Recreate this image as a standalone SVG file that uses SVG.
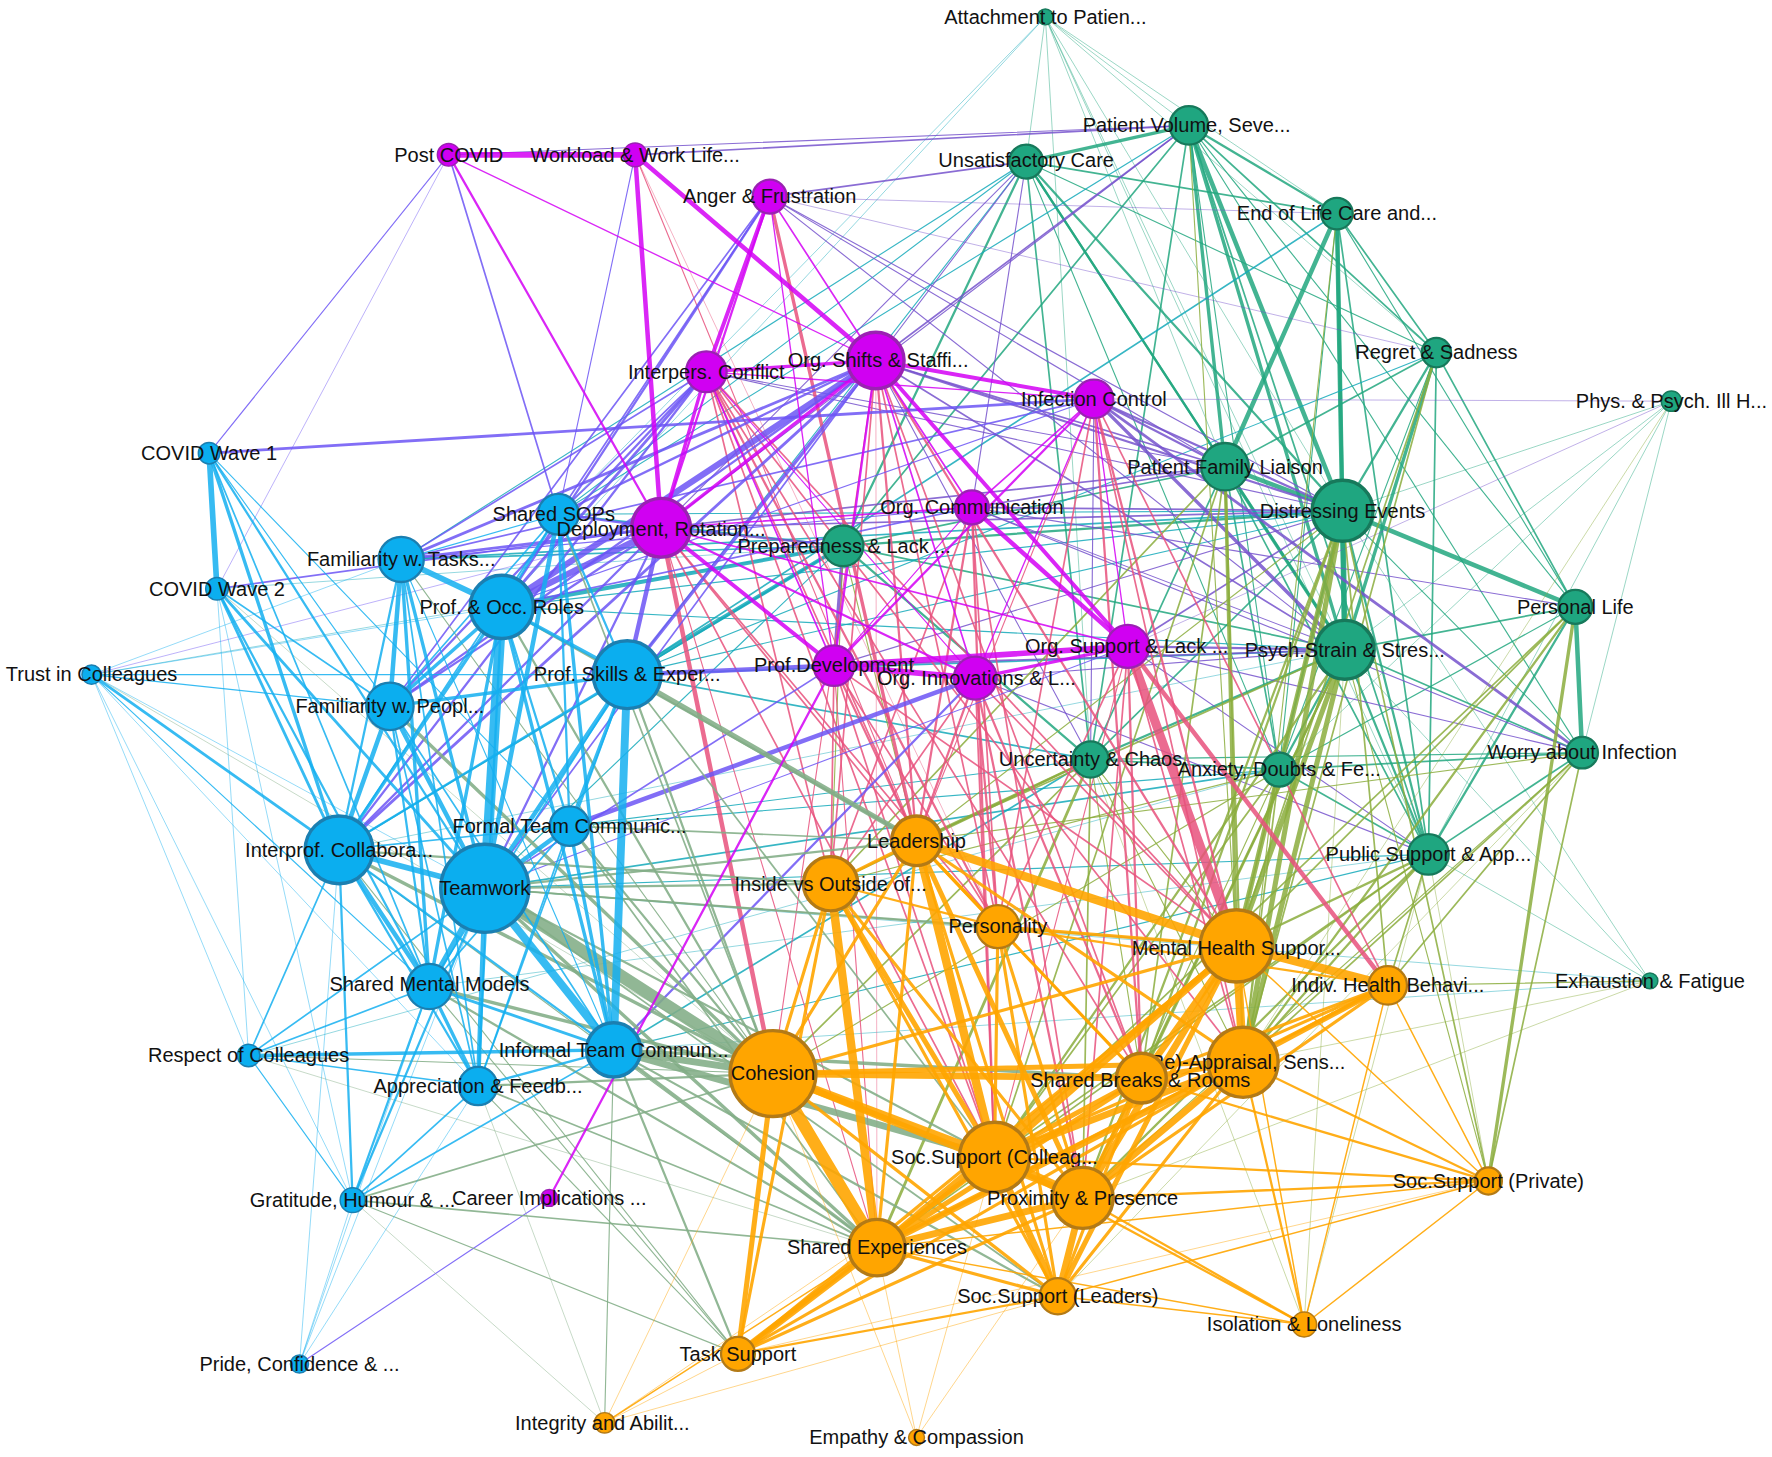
<svg xmlns="http://www.w3.org/2000/svg" width="1772" height="1457" viewBox="0 0 1772 1457">
<style>
.e line{fill:none;stroke-linecap:round}
.bb{stroke:#14aff0;stroke-opacity:.85}
.mm{stroke:#d400f4;stroke-opacity:.85}
.gg{stroke:#22a77f;stroke-opacity:.85}
.oo{stroke:#ffa500;stroke-opacity:.9}
.bm{stroke:#6c55f4;stroke-opacity:.85}
.mo{stroke:#e8517c;stroke-opacity:.85}
.go{stroke:#8bad3d;stroke-opacity:.85}
.bo{stroke:#82ad86;stroke-opacity:.88}
.bg{stroke:#14a9ba;stroke-opacity:.85}
.mg{stroke:#7652cc;stroke-opacity:.85}
.t{stroke-opacity:.5}
.nb circle{fill:#0baeef;stroke:#1b7fb1}
.nm circle{fill:#d000f2;stroke:#9a22b2}
.ng circle{fill:#1fa680;stroke:#17795b}
.no circle{fill:#ffa500;stroke:#b37a16}
.s1{stroke-width:1.3}.s2{stroke-width:2}.s3{stroke-width:3}
.node text{font-family:"Liberation Sans",Arial,Helvetica,sans-serif;font-size:17.7px;fill:#111;text-anchor:middle}
</style>
<rect width="1772" height="1457" fill="#fff"/>
<g transform="scale(1.130102)">
<g id="connectors" class="e">
<g class="gg">
<g stroke-width="5"><line x1="1188" y1="452" x2="1190" y2="575"/></g>
<g stroke-width="4"><line x1="1052" y1="111" x2="1188" y2="452"/><line x1="1183" y1="189" x2="1084" y2="413"/><line x1="1183" y1="189" x2="1190" y2="575"/><line x1="1084" y1="413" x2="1188" y2="452"/><line x1="1188" y1="452" x2="1394" y2="537"/><line x1="1394" y1="537" x2="1400" y2="666"/></g>
<g stroke-width="3"><line x1="1052" y1="111" x2="908" y2="143"/><line x1="1052" y1="111" x2="1084" y2="413"/><line x1="1052" y1="111" x2="1190" y2="575"/><line x1="1183" y1="189" x2="1188" y2="452"/><line x1="1271" y1="312" x2="1190" y2="575"/><line x1="1084" y1="413" x2="1190" y2="575"/></g>
<g stroke-width="2"><line x1="1052" y1="111" x2="1183" y2="189"/><line x1="908" y1="143" x2="1188" y2="452"/><line x1="908" y1="143" x2="1084" y2="413"/><line x1="908" y1="143" x2="1190" y2="575"/><line x1="908" y1="143" x2="746" y2="483"/><line x1="1271" y1="312" x2="1188" y2="452"/><line x1="1188" y1="452" x2="1264" y2="756"/><line x1="1188" y1="452" x2="1132" y2="681"/><line x1="1188" y1="452" x2="746" y2="483"/><line x1="1190" y1="575" x2="1264" y2="756"/><line x1="1190" y1="575" x2="1132" y2="681"/><line x1="1190" y1="575" x2="965" y2="672"/><line x1="1394" y1="537" x2="1264" y2="756"/><line x1="965" y1="672" x2="746" y2="483"/></g>
<g stroke-width="1.5"><line x1="1052" y1="111" x2="1271" y2="312"/><line x1="1052" y1="111" x2="746" y2="483"/><line x1="1052" y1="111" x2="965" y2="672"/><line x1="1052" y1="111" x2="1264" y2="756"/><line x1="908" y1="143" x2="965" y2="672"/><line x1="908" y1="143" x2="1183" y2="189"/><line x1="1183" y1="189" x2="1271" y2="312"/><line x1="1183" y1="189" x2="1264" y2="756"/><line x1="1271" y1="312" x2="1084" y2="413"/><line x1="1271" y1="312" x2="1264" y2="756"/><line x1="1271" y1="312" x2="1394" y2="537"/><line x1="1084" y1="413" x2="965" y2="672"/><line x1="1084" y1="413" x2="746" y2="483"/><line x1="1084" y1="413" x2="1132" y2="681"/><line x1="1084" y1="413" x2="1264" y2="756"/><line x1="1188" y1="452" x2="965" y2="672"/><line x1="1190" y1="575" x2="1400" y2="666"/><line x1="1190" y1="575" x2="1394" y2="537"/><line x1="1190" y1="575" x2="746" y2="483"/><line x1="1400" y1="666" x2="1132" y2="681"/><line x1="1400" y1="666" x2="1264" y2="756"/><line x1="965" y1="672" x2="1132" y2="681"/><line x1="1132" y1="681" x2="1264" y2="756"/></g>
<g stroke-width="1"><line x1="1052" y1="111" x2="1400" y2="666"/><line x1="1052" y1="111" x2="1394" y2="537"/><line x1="1052" y1="111" x2="1132" y2="681"/><line x1="908" y1="143" x2="1132" y2="681"/><line x1="908" y1="143" x2="1271" y2="312"/><line x1="1183" y1="189" x2="1132" y2="681"/><line x1="1183" y1="189" x2="1394" y2="537"/><line x1="1271" y1="312" x2="1132" y2="681"/><line x1="1188" y1="452" x2="1400" y2="666"/><line x1="1394" y1="537" x2="1132" y2="681"/><line x1="1400" y1="666" x2="965" y2="672"/></g>
<g stroke-width="0.8" class="t"><line x1="925" y1="15" x2="908" y2="143"/><line x1="925" y1="15" x2="1052" y2="111"/><line x1="925" y1="15" x2="1183" y2="189"/><line x1="925" y1="15" x2="1084" y2="413"/><line x1="925" y1="15" x2="1188" y2="452"/><line x1="925" y1="15" x2="1190" y2="575"/><line x1="925" y1="15" x2="1271" y2="312"/><line x1="925" y1="15" x2="965" y2="672"/><line x1="925" y1="15" x2="1264" y2="756"/><line x1="1479" y1="355" x2="1190" y2="575"/><line x1="1479" y1="355" x2="1264" y2="756"/><line x1="1479" y1="355" x2="1132" y2="681"/><line x1="1479" y1="355" x2="1400" y2="666"/><line x1="1479" y1="355" x2="1188" y2="452"/><line x1="1460" y1="868" x2="1264" y2="756"/><line x1="1460" y1="868" x2="1188" y2="452"/><line x1="1460" y1="868" x2="1190" y2="575"/></g>
</g>
<g class="bg">
<g stroke-width="3.5"><line x1="746" y1="483" x2="555" y2="597"/><line x1="746" y1="483" x2="444" y2="537"/></g>
<g stroke-width="1.5"><line x1="746" y1="483" x2="355" y2="495"/><line x1="746" y1="483" x2="300" y2="752"/><line x1="746" y1="483" x2="494" y2="455"/><line x1="355" y1="495" x2="1188" y2="452"/><line x1="429" y1="786" x2="1132" y2="681"/><line x1="543" y1="929" x2="965" y2="672"/><line x1="555" y1="597" x2="965" y2="672"/><line x1="555" y1="597" x2="1190" y2="575"/><line x1="1183" y1="189" x2="555" y2="597"/></g>
<g stroke-width="1"><line x1="746" y1="483" x2="429" y2="786"/><line x1="444" y1="537" x2="1188" y2="452"/><line x1="444" y1="537" x2="1190" y2="575"/><line x1="429" y1="786" x2="1264" y2="756"/><line x1="504" y1="731" x2="965" y2="672"/><line x1="543" y1="929" x2="1264" y2="756"/><line x1="494" y1="455" x2="1188" y2="452"/><line x1="494" y1="455" x2="1052" y2="111"/><line x1="555" y1="597" x2="1188" y2="452"/><line x1="908" y1="143" x2="494" y2="455"/><line x1="908" y1="143" x2="555" y2="597"/><line x1="908" y1="143" x2="355" y2="495"/><line x1="1271" y1="312" x2="555" y2="597"/><line x1="504" y1="731" x2="1132" y2="681"/></g>
<g stroke-width="0.8" class="t"><line x1="81" y1="597" x2="746" y2="483"/><line x1="192" y1="521" x2="746" y2="483"/><line x1="925" y1="15" x2="494" y2="455"/><line x1="925" y1="15" x2="444" y2="537"/><line x1="1460" y1="868" x2="543" y2="929"/><line x1="1460" y1="868" x2="429" y2="786"/><line x1="1264" y1="756" x2="380" y2="873"/><line x1="220" y1="934" x2="1132" y2="681"/><line x1="300" y1="752" x2="1190" y2="575"/></g>
</g>
<g class="mg">
<g stroke-width="3"><line x1="746" y1="483" x2="738" y2="589"/><line x1="968" y1="353" x2="1190" y2="575"/></g>
<g stroke-width="2.5"><line x1="968" y1="353" x2="1400" y2="666"/></g>
<g stroke-width="2"><line x1="775" y1="319" x2="1188" y2="452"/><line x1="968" y1="353" x2="1188" y2="452"/><line x1="968" y1="353" x2="1084" y2="413"/><line x1="998" y1="572" x2="1190" y2="575"/><line x1="585" y1="467" x2="746" y2="483"/></g>
<g stroke-width="1.5"><line x1="775" y1="319" x2="1190" y2="575"/><line x1="775" y1="319" x2="1052" y2="111"/><line x1="775" y1="319" x2="1084" y2="413"/><line x1="681" y1="174" x2="908" y2="143"/><line x1="562" y1="137" x2="1052" y2="111"/><line x1="860" y1="449" x2="1188" y2="452"/><line x1="860" y1="449" x2="1084" y2="413"/><line x1="998" y1="572" x2="1188" y2="452"/><line x1="738" y1="589" x2="1190" y2="575"/><line x1="585" y1="467" x2="1188" y2="452"/><line x1="585" y1="467" x2="1084" y2="413"/></g>
<g stroke-width="1"><line x1="775" y1="319" x2="908" y2="143"/><line x1="775" y1="319" x2="965" y2="672"/><line x1="968" y1="353" x2="965" y2="672"/><line x1="681" y1="174" x2="1188" y2="452"/><line x1="681" y1="174" x2="1190" y2="575"/><line x1="681" y1="174" x2="1084" y2="413"/><line x1="397" y1="137" x2="1052" y2="111"/><line x1="625" y1="329" x2="1084" y2="413"/><line x1="625" y1="329" x2="1188" y2="452"/><line x1="860" y1="449" x2="1190" y2="575"/><line x1="998" y1="572" x2="1264" y2="756"/><line x1="998" y1="572" x2="1400" y2="666"/><line x1="585" y1="467" x2="908" y2="143"/><line x1="585" y1="467" x2="1052" y2="111"/><line x1="738" y1="589" x2="1188" y2="452"/><line x1="863" y1="600" x2="1190" y2="575"/><line x1="863" y1="600" x2="1264" y2="756"/><line x1="860" y1="449" x2="1394" y2="537"/><line x1="860" y1="449" x2="1400" y2="666"/><line x1="908" y1="143" x2="860" y2="449"/></g>
<g stroke-width="0.8" class="t"><line x1="968" y1="353" x2="1479" y2="355"/><line x1="998" y1="572" x2="1479" y2="355"/><line x1="681" y1="174" x2="1271" y2="312"/><line x1="681" y1="174" x2="1183" y2="189"/></g>
</g>
<g class="go">
<g stroke-width="4.5"><line x1="1188" y1="452" x2="1094" y2="837"/><line x1="1188" y1="452" x2="1100" y2="940"/><line x1="1190" y1="575" x2="1094" y2="837"/><line x1="1190" y1="575" x2="1100" y2="940"/></g>
<g stroke-width="3"><line x1="1084" y1="413" x2="1094" y2="837"/><line x1="1394" y1="537" x2="1317" y2="1045"/></g>
<g stroke-width="2.5"><line x1="965" y1="672" x2="776" y2="1104"/></g>
<g stroke-width="2"><line x1="1188" y1="452" x2="1010" y2="954"/><line x1="1188" y1="452" x2="958" y2="1060"/><line x1="1190" y1="575" x2="880" y2="1024"/><line x1="1190" y1="575" x2="958" y2="1060"/><line x1="1190" y1="575" x2="1010" y2="954"/><line x1="1084" y1="413" x2="1100" y2="940"/><line x1="1394" y1="537" x2="1100" y2="940"/><line x1="1264" y1="756" x2="1094" y2="837"/><line x1="1264" y1="756" x2="1100" y2="940"/><line x1="1264" y1="756" x2="958" y2="1060"/><line x1="965" y1="672" x2="735" y2="782"/><line x1="965" y1="672" x2="811" y2="744"/></g>
<g stroke-width="1.5"><line x1="1188" y1="452" x2="1317" y2="1045"/><line x1="1188" y1="452" x2="1228" y2="872"/><line x1="1190" y1="575" x2="811" y2="744"/><line x1="1084" y1="413" x2="880" y2="1024"/><line x1="1084" y1="413" x2="1010" y2="954"/><line x1="1084" y1="413" x2="735" y2="782"/><line x1="1394" y1="537" x2="1094" y2="837"/><line x1="1394" y1="537" x2="880" y2="1024"/><line x1="1400" y1="666" x2="1317" y2="1045"/><line x1="1400" y1="666" x2="1100" y2="940"/><line x1="1400" y1="666" x2="1228" y2="872"/><line x1="1264" y1="756" x2="880" y2="1024"/><line x1="1264" y1="756" x2="1228" y2="872"/><line x1="1264" y1="756" x2="776" y2="1104"/><line x1="965" y1="672" x2="684" y2="950"/><line x1="965" y1="672" x2="958" y2="1060"/><line x1="1132" y1="681" x2="1100" y2="940"/><line x1="1132" y1="681" x2="1094" y2="837"/><line x1="1132" y1="681" x2="880" y2="1024"/><line x1="1271" y1="312" x2="1094" y2="837"/><line x1="1271" y1="312" x2="1100" y2="940"/></g>
<g stroke-width="1"><line x1="1400" y1="666" x2="958" y2="1060"/><line x1="1400" y1="666" x2="811" y2="744"/><line x1="965" y1="672" x2="1100" y2="940"/><line x1="965" y1="672" x2="1010" y2="954"/><line x1="965" y1="672" x2="1094" y2="837"/><line x1="1132" y1="681" x2="958" y2="1060"/><line x1="1132" y1="681" x2="684" y2="950"/><line x1="1132" y1="681" x2="735" y2="782"/><line x1="1183" y1="189" x2="1100" y2="940"/><line x1="746" y1="483" x2="811" y2="744"/><line x1="746" y1="483" x2="735" y2="782"/><line x1="1052" y1="111" x2="1094" y2="837"/><line x1="1460" y1="868" x2="1228" y2="872"/><line x1="1317" y1="1045" x2="1190" y2="575"/><line x1="811" y1="744" x2="1188" y2="452"/></g>
<g stroke-width="0.8" class="t"><line x1="1264" y1="756" x2="1154" y2="1172"/><line x1="1264" y1="756" x2="1317" y2="1045"/><line x1="1460" y1="868" x2="1100" y2="940"/><line x1="1460" y1="868" x2="958" y2="1060"/><line x1="1479" y1="355" x2="1100" y2="940"/><line x1="1154" y1="1172" x2="1190" y2="575"/><line x1="1154" y1="1172" x2="965" y2="672"/><line x1="1400" y1="666" x2="936" y2="1147"/></g>
</g>
<g class="mo">
<g stroke-width="8"><line x1="998" y1="572" x2="1094" y2="837"/></g>
<g stroke-width="4"><line x1="585" y1="467" x2="684" y2="950"/><line x1="998" y1="572" x2="1228" y2="872"/></g>
<g stroke-width="3"><line x1="681" y1="174" x2="811" y2="744"/></g>
<g stroke-width="2"><line x1="775" y1="319" x2="811" y2="744"/><line x1="775" y1="319" x2="1094" y2="837"/><line x1="625" y1="329" x2="883" y2="820"/><line x1="968" y1="353" x2="1094" y2="837"/><line x1="968" y1="353" x2="1010" y2="954"/><line x1="860" y1="449" x2="880" y2="1024"/><line x1="860" y1="449" x2="811" y2="744"/><line x1="738" y1="589" x2="811" y2="744"/><line x1="863" y1="600" x2="811" y2="744"/><line x1="863" y1="600" x2="883" y2="820"/><line x1="863" y1="600" x2="958" y2="1060"/><line x1="863" y1="600" x2="1010" y2="954"/><line x1="998" y1="572" x2="1010" y2="954"/></g>
<g stroke-width="1.5"><line x1="775" y1="319" x2="1010" y2="954"/><line x1="775" y1="319" x2="883" y2="820"/><line x1="775" y1="319" x2="735" y2="782"/><line x1="625" y1="329" x2="1010" y2="954"/><line x1="625" y1="329" x2="1100" y2="940"/><line x1="625" y1="329" x2="811" y2="744"/><line x1="625" y1="329" x2="880" y2="1024"/><line x1="625" y1="329" x2="1094" y2="837"/><line x1="625" y1="329" x2="735" y2="782"/><line x1="968" y1="353" x2="883" y2="820"/><line x1="968" y1="353" x2="1228" y2="872"/><line x1="968" y1="353" x2="1100" y2="940"/><line x1="860" y1="449" x2="883" y2="820"/><line x1="860" y1="449" x2="958" y2="1060"/><line x1="860" y1="449" x2="735" y2="782"/><line x1="738" y1="589" x2="883" y2="820"/><line x1="738" y1="589" x2="880" y2="1024"/><line x1="738" y1="589" x2="735" y2="782"/><line x1="738" y1="589" x2="1094" y2="837"/><line x1="863" y1="600" x2="880" y2="1024"/><line x1="863" y1="600" x2="1094" y2="837"/><line x1="863" y1="600" x2="735" y2="782"/><line x1="998" y1="572" x2="958" y2="1060"/><line x1="998" y1="572" x2="1100" y2="940"/><line x1="998" y1="572" x2="883" y2="820"/><line x1="585" y1="467" x2="880" y2="1024"/><line x1="585" y1="467" x2="883" y2="820"/><line x1="585" y1="467" x2="811" y2="744"/></g>
<g stroke-width="1"><line x1="775" y1="319" x2="684" y2="950"/><line x1="562" y1="137" x2="811" y2="744"/><line x1="968" y1="353" x2="811" y2="744"/><line x1="738" y1="589" x2="776" y2="1104"/><line x1="998" y1="572" x2="880" y2="1024"/><line x1="585" y1="467" x2="776" y2="1104"/></g>
<g stroke-width="0.8" class="t"><line x1="562" y1="137" x2="883" y2="820"/><line x1="775" y1="319" x2="776" y2="1104"/></g>
</g>
<g class="bm">
<g stroke-width="5.5"><line x1="775" y1="319" x2="444" y2="537"/><line x1="585" y1="467" x2="444" y2="537"/></g>
<g stroke-width="4"><line x1="738" y1="589" x2="555" y2="597"/><line x1="863" y1="600" x2="504" y2="731"/><line x1="585" y1="467" x2="555" y2="597"/></g>
<g stroke-width="3"><line x1="775" y1="319" x2="555" y2="597"/></g>
<g stroke-width="2.5"><line x1="775" y1="319" x2="355" y2="495"/><line x1="775" y1="319" x2="300" y2="752"/><line x1="585" y1="467" x2="355" y2="495"/><line x1="625" y1="329" x2="444" y2="537"/><line x1="185" y1="401" x2="968" y2="353"/></g>
<g stroke-width="2"><line x1="775" y1="319" x2="494" y2="455"/><line x1="775" y1="319" x2="345" y2="625"/><line x1="585" y1="467" x2="300" y2="752"/><line x1="585" y1="467" x2="429" y2="786"/><line x1="585" y1="467" x2="494" y2="455"/><line x1="585" y1="467" x2="345" y2="625"/><line x1="625" y1="329" x2="300" y2="752"/><line x1="625" y1="329" x2="345" y2="625"/><line x1="681" y1="174" x2="444" y2="537"/><line x1="863" y1="600" x2="543" y2="929"/></g>
<g stroke-width="1.5"><line x1="775" y1="319" x2="429" y2="786"/><line x1="585" y1="467" x2="192" y2="521"/><line x1="625" y1="329" x2="355" y2="495"/><line x1="625" y1="329" x2="494" y2="455"/><line x1="681" y1="174" x2="494" y2="455"/><line x1="681" y1="174" x2="345" y2="625"/><line x1="397" y1="137" x2="494" y2="455"/><line x1="738" y1="589" x2="429" y2="786"/><line x1="860" y1="449" x2="444" y2="537"/><line x1="968" y1="353" x2="355" y2="495"/></g>
<g stroke-width="1"><line x1="397" y1="137" x2="185" y2="401"/><line x1="562" y1="137" x2="494" y2="455"/><line x1="860" y1="449" x2="355" y2="495"/><line x1="968" y1="353" x2="444" y2="537"/><line x1="998" y1="572" x2="429" y2="786"/><line x1="486" y1="1060" x2="265" y2="1207"/></g>
<g stroke-width="0.8" class="t"><line x1="397" y1="137" x2="192" y2="521"/><line x1="81" y1="597" x2="585" y2="467"/></g>
</g>
<g class="bo">
<g stroke-width="11"><line x1="429" y1="786" x2="684" y2="950"/></g>
<g stroke-width="6"><line x1="543" y1="929" x2="684" y2="950"/><line x1="543" y1="929" x2="880" y2="1024"/></g>
<g stroke-width="4.5"><line x1="555" y1="597" x2="811" y2="744"/></g>
<g stroke-width="3"><line x1="300" y1="752" x2="684" y2="950"/><line x1="380" y1="873" x2="684" y2="950"/><line x1="429" y1="786" x2="776" y2="1104"/><line x1="543" y1="929" x2="776" y2="1104"/><line x1="345" y1="625" x2="684" y2="950"/><line x1="543" y1="929" x2="1010" y2="954"/></g>
<g stroke-width="2"><line x1="300" y1="752" x2="735" y2="782"/><line x1="429" y1="786" x2="735" y2="782"/><line x1="429" y1="786" x2="811" y2="744"/><line x1="423" y1="961" x2="684" y2="950"/><line x1="380" y1="873" x2="776" y2="1104"/><line x1="504" y1="731" x2="684" y2="950"/><line x1="444" y1="537" x2="811" y2="744"/><line x1="444" y1="537" x2="684" y2="950"/><line x1="555" y1="597" x2="684" y2="950"/><line x1="543" y1="929" x2="653" y2="1198"/><line x1="543" y1="929" x2="936" y2="1147"/><line x1="429" y1="786" x2="880" y2="1024"/></g>
<g stroke-width="1.5"><line x1="429" y1="786" x2="883" y2="820"/><line x1="423" y1="961" x2="776" y2="1104"/><line x1="312" y1="1062" x2="684" y2="950"/><line x1="312" y1="1062" x2="776" y2="1104"/><line x1="504" y1="731" x2="811" y2="744"/><line x1="504" y1="731" x2="776" y2="1104"/><line x1="494" y1="455" x2="684" y2="950"/><line x1="555" y1="597" x2="880" y2="1024"/><line x1="429" y1="786" x2="936" y2="1147"/><line x1="429" y1="786" x2="1094" y2="837"/></g>
<g stroke-width="1"><line x1="312" y1="1062" x2="653" y2="1198"/><line x1="380" y1="873" x2="653" y2="1198"/><line x1="423" y1="961" x2="653" y2="1198"/><line x1="300" y1="752" x2="653" y2="1198"/><line x1="220" y1="934" x2="684" y2="950"/><line x1="355" y1="495" x2="684" y2="950"/><line x1="300" y1="752" x2="776" y2="1104"/><line x1="543" y1="929" x2="535" y2="1259"/></g>
<g stroke-width="0.8" class="t"><line x1="220" y1="934" x2="776" y2="1104"/><line x1="312" y1="1062" x2="535" y2="1259"/><line x1="423" y1="961" x2="535" y2="1259"/><line x1="81" y1="597" x2="684" y2="950"/><line x1="192" y1="521" x2="684" y2="950"/></g>
</g>
<g class="oo">
<g stroke-width="11"><line x1="684" y1="950" x2="776" y2="1104"/></g>
<g stroke-width="7.5"><line x1="811" y1="744" x2="1094" y2="837"/><line x1="735" y1="782" x2="776" y2="1104"/><line x1="1094" y1="837" x2="1100" y2="940"/><line x1="1094" y1="837" x2="1228" y2="872"/><line x1="684" y1="950" x2="880" y2="1024"/><line x1="880" y1="1024" x2="958" y2="1060"/><line x1="811" y1="744" x2="880" y2="1024"/></g>
<g stroke-width="6"><line x1="1094" y1="837" x2="1010" y2="954"/><line x1="1094" y1="837" x2="880" y2="1024"/><line x1="1094" y1="837" x2="958" y2="1060"/><line x1="684" y1="950" x2="958" y2="1060"/><line x1="1100" y1="940" x2="880" y2="1024"/><line x1="1100" y1="940" x2="958" y2="1060"/><line x1="1100" y1="940" x2="776" y2="1104"/><line x1="880" y1="1024" x2="936" y2="1147"/><line x1="958" y1="1060" x2="776" y2="1104"/><line x1="958" y1="1060" x2="936" y2="1147"/><line x1="776" y1="1104" x2="653" y2="1198"/><line x1="684" y1="950" x2="1010" y2="954"/></g>
<g stroke-width="4.5"><line x1="811" y1="744" x2="958" y2="1060"/><line x1="735" y1="782" x2="880" y2="1024"/><line x1="1094" y1="837" x2="776" y2="1104"/><line x1="1094" y1="837" x2="936" y2="1147"/><line x1="1228" y1="872" x2="1100" y2="940"/><line x1="684" y1="950" x2="1100" y2="940"/><line x1="684" y1="950" x2="653" y2="1198"/><line x1="1100" y1="940" x2="1010" y2="954"/><line x1="1010" y1="954" x2="880" y2="1024"/><line x1="1010" y1="954" x2="958" y2="1060"/><line x1="1010" y1="954" x2="776" y2="1104"/><line x1="880" y1="1024" x2="776" y2="1104"/></g>
<g stroke-width="2.8"><line x1="811" y1="744" x2="735" y2="782"/><line x1="811" y1="744" x2="684" y2="950"/><line x1="811" y1="744" x2="883" y2="820"/><line x1="811" y1="744" x2="776" y2="1104"/><line x1="811" y1="744" x2="936" y2="1147"/><line x1="811" y1="744" x2="1100" y2="940"/><line x1="811" y1="744" x2="1010" y2="954"/><line x1="735" y1="782" x2="684" y2="950"/><line x1="735" y1="782" x2="958" y2="1060"/><line x1="735" y1="782" x2="653" y2="1198"/><line x1="735" y1="782" x2="936" y2="1147"/><line x1="883" y1="820" x2="1094" y2="837"/><line x1="883" y1="820" x2="880" y2="1024"/><line x1="883" y1="820" x2="958" y2="1060"/><line x1="883" y1="820" x2="936" y2="1147"/><line x1="1094" y1="837" x2="684" y2="950"/><line x1="1094" y1="837" x2="653" y2="1198"/><line x1="1228" y1="872" x2="1010" y2="954"/><line x1="1228" y1="872" x2="880" y2="1024"/><line x1="1228" y1="872" x2="958" y2="1060"/><line x1="1228" y1="872" x2="776" y2="1104"/><line x1="684" y1="950" x2="936" y2="1147"/><line x1="1100" y1="940" x2="936" y2="1147"/><line x1="1100" y1="940" x2="653" y2="1198"/><line x1="1010" y1="954" x2="936" y2="1147"/><line x1="880" y1="1024" x2="653" y2="1198"/><line x1="958" y1="1060" x2="653" y2="1198"/><line x1="776" y1="1104" x2="936" y2="1147"/></g>
<g stroke-width="2"><line x1="735" y1="782" x2="883" y2="820"/><line x1="883" y1="820" x2="1010" y2="954"/><line x1="883" y1="820" x2="1228" y2="872"/><line x1="1100" y1="940" x2="1317" y2="1045"/><line x1="1100" y1="940" x2="1154" y2="1172"/><line x1="1010" y1="954" x2="1317" y2="1045"/><line x1="880" y1="1024" x2="1317" y2="1045"/><line x1="880" y1="1024" x2="1154" y2="1172"/><line x1="958" y1="1060" x2="1317" y2="1045"/><line x1="958" y1="1060" x2="1154" y2="1172"/><line x1="936" y1="1147" x2="653" y2="1198"/></g>
<g stroke-width="1.3"><line x1="1094" y1="837" x2="1317" y2="1045"/><line x1="1228" y1="872" x2="1317" y2="1045"/><line x1="1228" y1="872" x2="1154" y2="1172"/><line x1="776" y1="1104" x2="535" y2="1259"/><line x1="776" y1="1104" x2="1317" y2="1045"/><line x1="776" y1="1104" x2="1154" y2="1172"/><line x1="936" y1="1147" x2="1154" y2="1172"/><line x1="936" y1="1147" x2="1317" y2="1045"/><line x1="1154" y1="1172" x2="1317" y2="1045"/><line x1="1154" y1="1172" x2="1094" y2="837"/></g>
<g stroke-width="0.8" class="t"><line x1="684" y1="950" x2="535" y2="1259"/><line x1="776" y1="1104" x2="811" y2="1272"/><line x1="653" y1="1198" x2="535" y2="1259"/><line x1="535" y1="1259" x2="936" y2="1147"/><line x1="535" y1="1259" x2="880" y2="1024"/><line x1="811" y1="1272" x2="880" y2="1024"/><line x1="811" y1="1272" x2="684" y2="950"/><line x1="811" y1="1272" x2="958" y2="1060"/><line x1="653" y1="1198" x2="1317" y2="1045"/></g>
</g>
<g class="mm">
<g stroke-width="5"><line x1="397" y1="137" x2="562" y2="137"/><line x1="738" y1="589" x2="863" y2="600"/><line x1="738" y1="589" x2="998" y2="572"/></g>
<g stroke-width="4"><line x1="562" y1="137" x2="585" y2="467"/><line x1="562" y1="137" x2="775" y2="319"/><line x1="860" y1="449" x2="998" y2="572"/></g>
<g stroke-width="3.5"><line x1="681" y1="174" x2="625" y2="329"/><line x1="775" y1="319" x2="968" y2="353"/><line x1="775" y1="319" x2="998" y2="572"/><line x1="585" y1="467" x2="738" y2="589"/></g>
<g stroke-width="3"><line x1="625" y1="329" x2="775" y2="319"/><line x1="625" y1="329" x2="585" y2="467"/><line x1="863" y1="600" x2="998" y2="572"/><line x1="775" y1="319" x2="585" y2="467"/></g>
<g stroke-width="2"><line x1="397" y1="137" x2="585" y2="467"/><line x1="681" y1="174" x2="585" y2="467"/><line x1="775" y1="319" x2="738" y2="589"/><line x1="968" y1="353" x2="738" y2="589"/><line x1="585" y1="467" x2="863" y2="600"/><line x1="486" y1="1060" x2="738" y2="589"/></g>
<g stroke-width="1.5"><line x1="681" y1="174" x2="775" y2="319"/><line x1="625" y1="329" x2="738" y2="589"/><line x1="775" y1="319" x2="863" y2="600"/><line x1="775" y1="319" x2="860" y2="449"/><line x1="968" y1="353" x2="860" y2="449"/><line x1="860" y1="449" x2="585" y2="467"/><line x1="585" y1="467" x2="998" y2="572"/></g>
<g stroke-width="1.2"><line x1="397" y1="137" x2="775" y2="319"/><line x1="625" y1="329" x2="968" y2="353"/><line x1="968" y1="353" x2="863" y2="600"/><line x1="968" y1="353" x2="998" y2="572"/><line x1="681" y1="174" x2="738" y2="589"/></g>
<g stroke-width="1"><line x1="625" y1="329" x2="863" y2="600"/><line x1="860" y1="449" x2="738" y2="589"/></g>
</g>
<g class="bb">
<g stroke-width="9"><line x1="444" y1="537" x2="429" y2="786"/></g>
<g stroke-width="7"><line x1="429" y1="786" x2="543" y2="929"/><line x1="555" y1="597" x2="543" y2="929"/></g>
<g stroke-width="5"><line x1="355" y1="495" x2="444" y2="537"/><line x1="185" y1="401" x2="192" y2="521"/><line x1="300" y1="752" x2="429" y2="786"/><line x1="429" y1="786" x2="380" y2="873"/></g>
<g stroke-width="4"><line x1="355" y1="495" x2="345" y2="625"/><line x1="555" y1="597" x2="429" y2="786"/><line x1="494" y1="455" x2="429" y2="786"/><line x1="345" y1="625" x2="300" y2="752"/><line x1="345" y1="625" x2="429" y2="786"/><line x1="300" y1="752" x2="380" y2="873"/><line x1="429" y1="786" x2="504" y2="731"/><line x1="429" y1="786" x2="423" y2="961"/></g>
<g stroke-width="3"><line x1="185" y1="401" x2="300" y2="752"/><line x1="355" y1="495" x2="429" y2="786"/><line x1="355" y1="495" x2="380" y2="873"/><line x1="444" y1="537" x2="300" y2="752"/><line x1="444" y1="537" x2="345" y2="625"/><line x1="444" y1="537" x2="555" y2="597"/><line x1="444" y1="537" x2="380" y2="873"/><line x1="444" y1="537" x2="543" y2="929"/><line x1="555" y1="597" x2="504" y2="731"/><line x1="555" y1="597" x2="345" y2="625"/><line x1="494" y1="455" x2="543" y2="929"/><line x1="380" y1="873" x2="423" y2="961"/><line x1="504" y1="731" x2="543" y2="929"/><line x1="543" y1="929" x2="220" y2="934"/></g>
<g stroke-width="2.5"><line x1="192" y1="521" x2="300" y2="752"/><line x1="192" y1="521" x2="429" y2="786"/><line x1="81" y1="597" x2="300" y2="752"/><line x1="380" y1="873" x2="543" y2="929"/></g>
<g stroke-width="2"><line x1="185" y1="401" x2="429" y2="786"/><line x1="192" y1="521" x2="380" y2="873"/><line x1="355" y1="495" x2="300" y2="752"/><line x1="444" y1="537" x2="423" y2="961"/><line x1="444" y1="537" x2="504" y2="731"/><line x1="444" y1="537" x2="494" y2="455"/><line x1="555" y1="597" x2="300" y2="752"/><line x1="555" y1="597" x2="494" y2="455"/><line x1="494" y1="455" x2="504" y2="731"/><line x1="345" y1="625" x2="380" y2="873"/><line x1="300" y1="752" x2="423" y2="961"/><line x1="300" y1="752" x2="312" y2="1062"/><line x1="300" y1="752" x2="543" y2="929"/><line x1="429" y1="786" x2="312" y2="1062"/><line x1="380" y1="873" x2="312" y2="1062"/><line x1="543" y1="929" x2="423" y2="961"/></g>
<g stroke-width="1.5"><line x1="185" y1="401" x2="380" y2="873"/><line x1="192" y1="521" x2="345" y2="625"/><line x1="355" y1="495" x2="423" y2="961"/><line x1="555" y1="597" x2="380" y2="873"/><line x1="555" y1="597" x2="423" y2="961"/><line x1="494" y1="455" x2="300" y2="752"/><line x1="494" y1="455" x2="345" y2="625"/><line x1="345" y1="625" x2="423" y2="961"/><line x1="345" y1="625" x2="543" y2="929"/><line x1="300" y1="752" x2="220" y2="934"/><line x1="300" y1="752" x2="504" y2="731"/><line x1="429" y1="786" x2="220" y2="934"/><line x1="380" y1="873" x2="220" y2="934"/><line x1="504" y1="731" x2="380" y2="873"/><line x1="504" y1="731" x2="423" y2="961"/><line x1="543" y1="929" x2="312" y2="1062"/><line x1="220" y1="934" x2="423" y2="961"/><line x1="312" y1="1062" x2="423" y2="961"/></g>
<g stroke-width="1.2"><line x1="81" y1="597" x2="555" y2="597"/></g>
<g stroke-width="1"><line x1="185" y1="401" x2="504" y2="731"/><line x1="185" y1="401" x2="345" y2="625"/><line x1="81" y1="597" x2="345" y2="625"/><line x1="81" y1="597" x2="380" y2="873"/><line x1="355" y1="495" x2="543" y2="929"/><line x1="355" y1="495" x2="494" y2="455"/><line x1="220" y1="934" x2="312" y2="1062"/></g>
<g stroke-width="0.8" class="t"><line x1="81" y1="597" x2="429" y2="786"/><line x1="81" y1="597" x2="444" y2="537"/><line x1="81" y1="597" x2="355" y2="495"/><line x1="81" y1="597" x2="423" y2="961"/><line x1="81" y1="597" x2="312" y2="1062"/><line x1="81" y1="597" x2="220" y2="934"/><line x1="300" y1="752" x2="265" y2="1207"/><line x1="265" y1="1207" x2="312" y2="1062"/><line x1="265" y1="1207" x2="423" y2="961"/><line x1="265" y1="1207" x2="380" y2="873"/><line x1="265" y1="1207" x2="429" y2="786"/><line x1="192" y1="521" x2="312" y2="1062"/><line x1="192" y1="521" x2="220" y2="934"/></g>
</g>
</g>
<g id="nodes">
<g id="n-covid-wave-1" class="node nb"><circle cx="185" cy="401" r="9.5" class="s1"/><text x="185" y="407">COVID Wave 1</text></g>
<g id="n-covid-wave-2" class="node nb"><circle cx="192" cy="521" r="10" class="s1"/><text x="192" y="527">COVID Wave 2</text></g>
<g id="n-trust" class="node nb"><circle cx="81" cy="597" r="8.5" class="s1"/><text x="81" y="603">Trust in Colleagues</text></g>
<g id="n-shared-sops" class="node nb"><circle cx="494" cy="455" r="18" class="s2"/><text x="490" y="461">Shared SOPs</text></g>
<g id="n-fam-tasks" class="node nb"><circle cx="355" cy="495" r="20" class="s2"/><text x="355" y="501">Familiarity w. Tasks...</text></g>
<g id="n-prof-roles" class="node nb"><circle cx="444" cy="537" r="28" class="s3"/><text x="444" y="543">Prof. &amp; Occ. Roles</text></g>
<g id="n-prof-skills" class="node nb"><circle cx="555" cy="597" r="30" class="s3"/><text x="555" y="603">Prof. Skills &amp; Exper...</text></g>
<g id="n-fam-people" class="node nb"><circle cx="345" cy="625" r="21" class="s2"/><text x="345" y="631">Familiarity w. Peopl...</text></g>
<g id="n-formal-comm" class="node nb"><circle cx="504" cy="731" r="17.5" class="s2"/><text x="504" y="737">Formal Team Communic...</text></g>
<g id="n-interprof" class="node nb"><circle cx="300" cy="752" r="30" class="s3"/><text x="300" y="758">Interprof. Collabora...</text></g>
<g id="n-teamwork" class="node nb"><circle cx="429" cy="786" r="39" class="s3"/><text x="429" y="792">Teamwork</text></g>
<g id="n-shared-mental" class="node nb"><circle cx="380" cy="873" r="20" class="s2"/><text x="380" y="877">Shared Mental Models</text></g>
<g id="n-informal-comm" class="node nb"><circle cx="543" cy="929" r="24" class="s3"/><text x="543" y="935">Informal Team Commun...</text></g>
<g id="n-respect" class="node nb"><circle cx="220" cy="934" r="10" class="s1"/><text x="220" y="940">Respect of Colleagues</text></g>
<g id="n-appreciation" class="node nb"><circle cx="423" cy="961" r="17" class="s2"/><text x="423" y="967">Appreciation &amp; Feedb...</text></g>
<g id="n-gratitude" class="node nb"><circle cx="312" cy="1062" r="11" class="s1"/><text x="312" y="1068">Gratitude, Humour &amp; ...</text></g>
<g id="n-pride" class="node nb"><circle cx="265" cy="1207" r="8" class="s1"/><text x="265" y="1213">Pride, Confidence &amp; ...</text></g>
<g id="n-post-covid" class="node nm"><circle cx="397" cy="137" r="10" class="s1"/><text x="397" y="143">Post COVID</text></g>
<g id="n-workload" class="node nm"><circle cx="562" cy="137" r="10.5" class="s1"/><text x="562" y="143">Workload &amp; Work Life...</text></g>
<g id="n-anger" class="node nm"><circle cx="681" cy="174" r="15" class="s2"/><text x="681" y="180">Anger &amp; Frustration</text></g>
<g id="n-interpers" class="node nm"><circle cx="625" cy="329" r="18" class="s2"/><text x="625" y="335">Interpers. Conflict</text></g>
<g id="n-org-shifts" class="node nm"><circle cx="775" cy="319" r="25" class="s3"/><text x="777" y="325">Org. Shifts &amp; Staffi...</text></g>
<g id="n-infection-control" class="node nm"><circle cx="968" cy="353" r="17" class="s2"/><text x="968" y="359">Infection Control</text></g>
<g id="n-org-comm" class="node nm"><circle cx="860" cy="449" r="15" class="s2"/><text x="860" y="455">Org. Communication</text></g>
<g id="n-deployment" class="node nm"><circle cx="585" cy="467" r="26" class="s3"/><text x="585" y="474">Deployment, Rotation...</text></g>
<g id="n-prof-dev" class="node nm"><circle cx="738" cy="589" r="18" class="s2"/><text x="738" y="595">Prof.Development</text></g>
<g id="n-org-innov" class="node nm"><circle cx="863" cy="600" r="19" class="s2"/><text x="864" y="606">Org. Innovations &amp; L...</text></g>
<g id="n-org-support" class="node nm"><circle cx="998" cy="572" r="19" class="s2"/><text x="997" y="578">Org. Support &amp; Lack ...</text></g>
<g id="n-career" class="node nm"><circle cx="486" cy="1060" r="7.5" class="s1"/><text x="486" y="1066">Career Implications ...</text></g>
<g id="n-attachment" class="node ng"><circle cx="925" cy="15" r="7" class="s1"/><text x="925" y="21">Attachment to Patien...</text></g>
<g id="n-patient-volume" class="node ng"><circle cx="1052" cy="111" r="17" class="s2"/><text x="1050" y="117">Patient Volume, Seve...</text></g>
<g id="n-unsat-care" class="node ng"><circle cx="908" cy="143" r="15" class="s2"/><text x="908" y="148">Unsatisfactory Care</text></g>
<g id="n-end-of-life" class="node ng"><circle cx="1183" cy="189" r="14" class="s2"/><text x="1183" y="195">End of Life Care and...</text></g>
<g id="n-regret" class="node ng"><circle cx="1271" cy="312" r="13" class="s2"/><text x="1271" y="318">Regret &amp; Sadness</text></g>
<g id="n-phys-psych" class="node ng"><circle cx="1479" cy="355" r="9" class="s1"/><text x="1479" y="361">Phys. &amp; Psych. Ill H...</text></g>
<g id="n-family-liaison" class="node ng"><circle cx="1084" cy="413" r="21" class="s2"/><text x="1084" y="419">Patient Family Liaison</text></g>
<g id="n-distressing" class="node ng"><circle cx="1188" cy="452" r="27" class="s3"/><text x="1188" y="458">Distressing Events</text></g>
<g id="n-preparedness" class="node ng"><circle cx="746" cy="483" r="18" class="s2"/><text x="747" y="489">Preparedness &amp; Lack ...</text></g>
<g id="n-personal-life" class="node ng"><circle cx="1394" cy="537" r="15" class="s2"/><text x="1394" y="543">Personal Life</text></g>
<g id="n-psych-strain" class="node ng"><circle cx="1190" cy="575" r="26" class="s3"/><text x="1190" y="581">Psych.Strain &amp; Stres...</text></g>
<g id="n-uncertainty" class="node ng"><circle cx="965" cy="672" r="16" class="s2"/><text x="965" y="678">Uncertainty &amp; Chaos</text></g>
<g id="n-anxiety" class="node ng"><circle cx="1132" cy="681" r="15" class="s2"/><text x="1132" y="687">Anxiety, Doubts &amp; Fe...</text></g>
<g id="n-worry" class="node ng"><circle cx="1400" cy="666" r="14" class="s2"/><text x="1400" y="672">Worry about Infection</text></g>
<g id="n-public-support" class="node ng"><circle cx="1264" cy="756" r="18" class="s2"/><text x="1264" y="762">Public Support &amp; App...</text></g>
<g id="n-exhaustion" class="node ng"><circle cx="1460" cy="868" r="7" class="s1"/><text x="1460" y="874">Exhaustion &amp; Fatigue</text></g>
<g id="n-leadership" class="node no"><circle cx="811" cy="744" r="22" class="s3"/><text x="811" y="750">Leadership</text></g>
<g id="n-inside-outside" class="node no"><circle cx="735" cy="782" r="24" class="s3"/><text x="735" y="788">Inside vs Outside of...</text></g>
<g id="n-personality" class="node no"><circle cx="883" cy="820" r="19" class="s2"/><text x="883" y="826">Personality</text></g>
<g id="n-mental-health" class="node no"><circle cx="1094" cy="837" r="32" class="s3"/><text x="1094" y="845">Mental Health Suppor...</text></g>
<g id="n-indiv-health" class="node no"><circle cx="1228" cy="872" r="17" class="s2"/><text x="1228" y="878">Indiv. Health Behavi...</text></g>
<g id="n-cohesion" class="node no"><circle cx="684" cy="950" r="38" class="s3"/><text x="684" y="956">Cohesion</text></g>
<g id="n-reappraisal" class="node no"><circle cx="1100" cy="940" r="31" class="s3"/><text x="1101" y="946">(Re)-Appraisal, Sens...</text></g>
<g id="n-shared-breaks" class="node no"><circle cx="1010" cy="954" r="22" class="s3"/><text x="1009" y="962">Shared Breaks &amp; Rooms</text></g>
<g id="n-soc-colleag" class="node no"><circle cx="880" cy="1024" r="31" class="s3"/><text x="880" y="1030">Soc.Support (Colleag...</text></g>
<g id="n-proximity" class="node no"><circle cx="958" cy="1060" r="27" class="s3"/><text x="958" y="1066">Proximity &amp; Presence</text></g>
<g id="n-soc-private" class="node no"><circle cx="1317" cy="1045" r="12" class="s2"/><text x="1317" y="1051">Soc.Support (Private)</text></g>
<g id="n-shared-exp" class="node no"><circle cx="776" cy="1104" r="25" class="s3"/><text x="776" y="1110">Shared Experiences</text></g>
<g id="n-soc-leaders" class="node no"><circle cx="936" cy="1147" r="16" class="s2"/><text x="936" y="1153">Soc.Support (Leaders)</text></g>
<g id="n-isolation" class="node no"><circle cx="1154" cy="1172" r="11" class="s1"/><text x="1154" y="1178">Isolation &amp; Loneliness</text></g>
<g id="n-task-support" class="node no"><circle cx="653" cy="1198" r="15" class="s2"/><text x="653" y="1204">Task Support</text></g>
<g id="n-integrity" class="node no"><circle cx="535" cy="1259" r="9" class="s1"/><text x="533" y="1265">Integrity and Abilit...</text></g>
<g id="n-empathy" class="node no"><circle cx="811" cy="1272" r="7" class="s1"/><text x="811" y="1278">Empathy &amp; Compassion</text></g>
</g>
</g>
</svg>
